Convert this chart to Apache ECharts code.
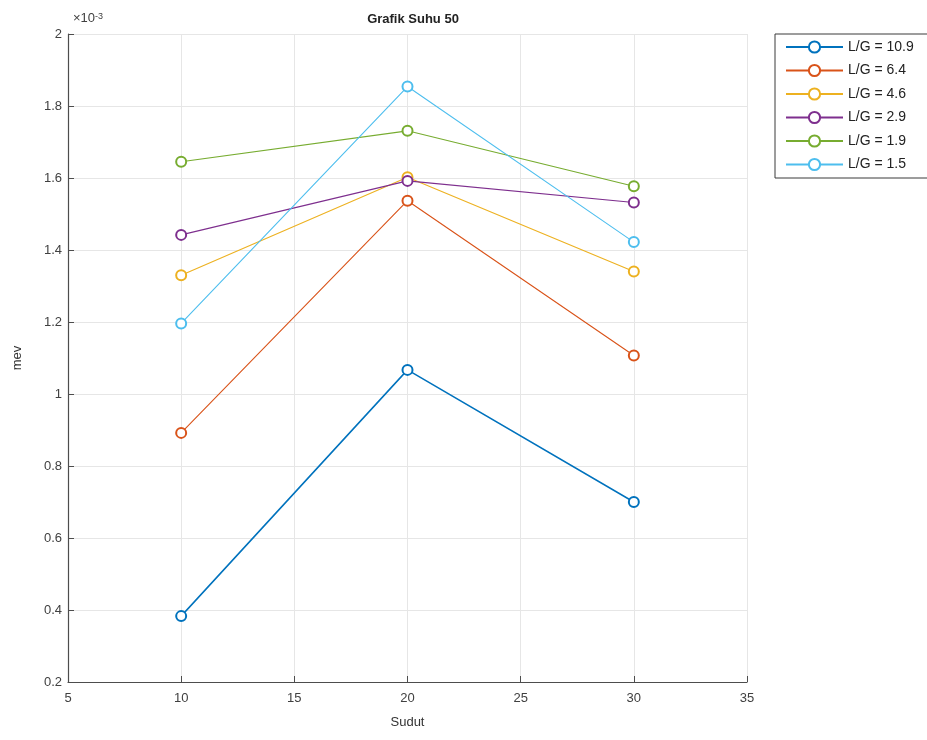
<!DOCTYPE html>
<html>
<head>
<meta charset="utf-8">
<script src="https://cdn.jsdelivr.net/npm/echarts@6/dist/echarts.min.js"></script>
<style>html,body{margin:0;padding:0;background:#fff;}#c{width:927px;height:740px;}</style>
</head>
<body>
<div id="c"></div>
<script>
// x values (Sudut)
const sudut = [10, 20, 30];
// series names
const seriesNames = ['L/G = 10.9', 'L/G = 6.4', 'L/G = 4.6', 'L/G = 2.9', 'L/G = 1.9', 'L/G = 1.5'];
// mev values in units of 1e-3
const lg109 = [0.383, 1.067, 0.700];
const lg64  = [0.892, 1.537, 1.107];
const lg46  = [1.330, 1.602, 1.340];
const lg29  = [1.442, 1.592, 1.532];
const lg19  = [1.645, 1.731, 1.577];
const lg15  = [1.196, 1.854, 1.422];
const seriesValues = [lg109, lg64, lg46, lg29, lg19, lg15];
const colors = ['#0072BD', '#D95319', '#EDB120', '#7E2F8E', '#77AC30', '#4DBEEE'];
const xTicks = [5, 10, 15, 20, 25, 30, 35];
const yTicks = [0.2, 0.4, 0.6, 0.8, 1, 1.2, 1.4, 1.6, 1.8, 2];

const chart = echarts.init(document.getElementById('c'), null, {renderer: 'canvas'});
const font = 'Helvetica, Arial, "Liberation Sans", sans-serif';
const axisColor = '#4d4d4d';
const series = seriesNames.map((n, i) => ({
  name: n,
  type: 'line',
  data: sudut.map((x, j) => [x, seriesValues[i][j]]),
  symbol: 'emptyCircle',
  symbolSize: 10,
  lineStyle: {color: colors[i], width: i === 0 ? 1.5 : 1.1},
  itemStyle: {color: colors[i], borderColor: colors[i], borderWidth: 1.1},
  animation: false,
  z: 3
}));

chart.setOption({
  animation: false,
  color: colors,
  title: {
    text: 'Grafik Suhu 50',
    left: 408, top: 8, textAlign: 'center',
    textStyle: {fontFamily: font, fontSize: 13, fontWeight: 'bold', color: '#222'}
  },
  grid: {left: 68, right: 180, top: 34, bottom: 58, containLabel: false},
  xAxis: {
    type: 'value', min: xTicks[0], max: xTicks[xTicks.length - 1], interval: 5,
    name: 'Sudut', nameLocation: 'middle', nameGap: 34,
    nameTextStyle: {fontFamily: font, fontSize: 13, color: '#333'},
    axisLine: {show: true, lineStyle: {color: axisColor, width: 1.2}},
    axisTick: {show: true, inside: true, length: 6, lineStyle: {color: axisColor}},
    axisLabel: {fontFamily: font, fontSize: 13, color: '#404040', margin: 10},
    splitLine: {show: true, lineStyle: {color: '#e6e6e6', width: 1}}
  },
  yAxis: {
    type: 'value', min: yTicks[0], max: yTicks[yTicks.length - 1], interval: 0.2,
    name: 'mev', nameLocation: 'middle', nameGap: 44,
    nameTextStyle: {fontFamily: font, fontSize: 13, color: '#333'},
    axisLine: {show: true, lineStyle: {color: axisColor, width: 1.2}},
    axisTick: {show: true, inside: true, length: 6, lineStyle: {color: axisColor}},
    axisLabel: {fontFamily: font, fontSize: 13, color: '#404040', margin: 6,
      formatter: v => String(+v.toFixed(1))},
    splitLine: {show: true, lineStyle: {color: '#e6e6e6', width: 1}}
  },
  legend: {
    orient: 'vertical', left: 780, top: 35,
    itemWidth: 57, itemHeight: 14, itemGap: 9.5,
    data: seriesNames,
    itemStyle: {borderWidth: 1.1},
    textStyle: {fontFamily: font, fontSize: 14, color: '#222'}
  },
  graphic: [
    {type: 'rect', shape: {x: 775, y: 34, width: 200, height: 144},
     style: {fill: 'none', stroke: '#3a3a3a', lineWidth: 1}, z: 1},
    {type: 'text', x: 73, y: 12,
     style: {text: '×10{s|-3}', rich: {s: {fontSize: 9, verticalAlign: 'top', fontFamily: font, fill: '#404040'}},
       fontFamily: font, fontSize: 13, fill: '#404040'}}
  ],
  series: series
});
</script>
</body>
</html>
